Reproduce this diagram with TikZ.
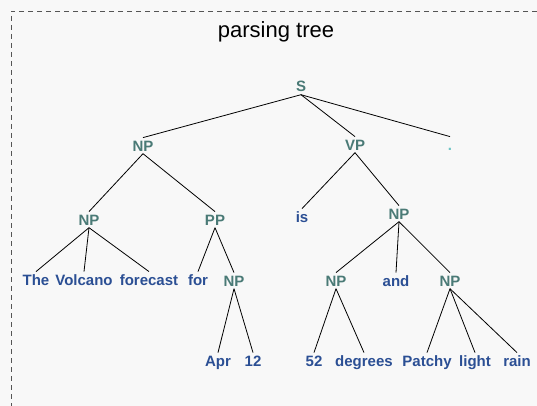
\documentclass[tikz,border=0pt]{standalone}
\usepackage{fontspec}
\setmainfont{Liberation Sans}
\definecolor{bgcol}{HTML}{F8F8F8}
\definecolor{framecol}{HTML}{555555}
\definecolor{phrasecol}{HTML}{4A7A76}
\definecolor{wordcol}{HTML}{2B4F94}
\definecolor{dotcol}{HTML}{6CC4C4}
\tikzset{
  phrase/.style={anchor=base, font=\fontsize{15}{15}\selectfont\bfseries, text=phrasecol,
    inner xsep=1pt, inner ysep=2.5pt, text height=10.7pt, text depth=0pt},
  word/.style={phrase, text=wordcol},
  branch/.style={black, line width=0.8pt}
}
\begin{document}
\begin{tikzpicture}[x=1pt,y=-1pt]
  \fill[bgcol] (0,0) rectangle (537,406);
  \useasboundingbox (0,0) rectangle (537,406);
  \draw[framecol, line width=0.8pt, dash pattern=on 5pt off 4pt] (537,11) -- (11,11) -- (11,406);
  \node[anchor=base, font=\fontsize{22}{22}\selectfont] (title) at (276,38) {parsing tree};
  % phrases
  \node[phrase] (s) at (301,92) {S};
  \node[phrase] (np1) at (143,151) {NP};
  \node[phrase] (vp) at (355,150) {VP};
  \node[phrase, text=dotcol] (dot) at (450,150) {.};
  \node[phrase] (np2) at (89,225) {NP};
  \node[phrase] (pp) at (215,225) {PP};
  \node[word] (is) at (302,222) {is};
  \node[phrase] (np3) at (399,219) {NP};
  % third row
  \node[word] (the) at (36,285) {The};
  \node[word] (volcano) at (84,285) {Volcano};
  \node[word] (forecast) at (149,285) {forecast};
  \node[word] (for) at (198,285) {for};
  \node[phrase] (np4) at (234,286) {NP};
  \node[phrase] (np5) at (336,286) {NP};
  \node[word] (and) at (396,286) {and};
  \node[phrase] (np6) at (450,286) {NP};
  % bottom row
  \node[word] (apr) at (218,366) {Apr};
  \node[word] (twelve) at (253,366) {12};
  \node[word] (fiftytwo) at (314,366) {52};
  \node[word] (degrees) at (364,366) {degrees};
  \node[word] (patchy) at (427,366) {Patchy};
  \node[word] (light) at (475,366) {light};
  \node[word] (rain) at (517,366) {rain};
  % branches
  \foreach \p/\c in {s/np1, s/vp, s/dot, np1/np2, np1/pp, np2/the, np2/volcano, np2/forecast,
      pp/for, pp/np4, vp/is, vp/np3, np3/np5, np3/and, np3/np6, np4/apr, np4/twelve,
      np5/fiftytwo, np5/degrees, np6/patchy, np6/light, np6/rain}
    \draw[branch] (\p.south) -- (\c.north);
\end{tikzpicture}
\end{document}
